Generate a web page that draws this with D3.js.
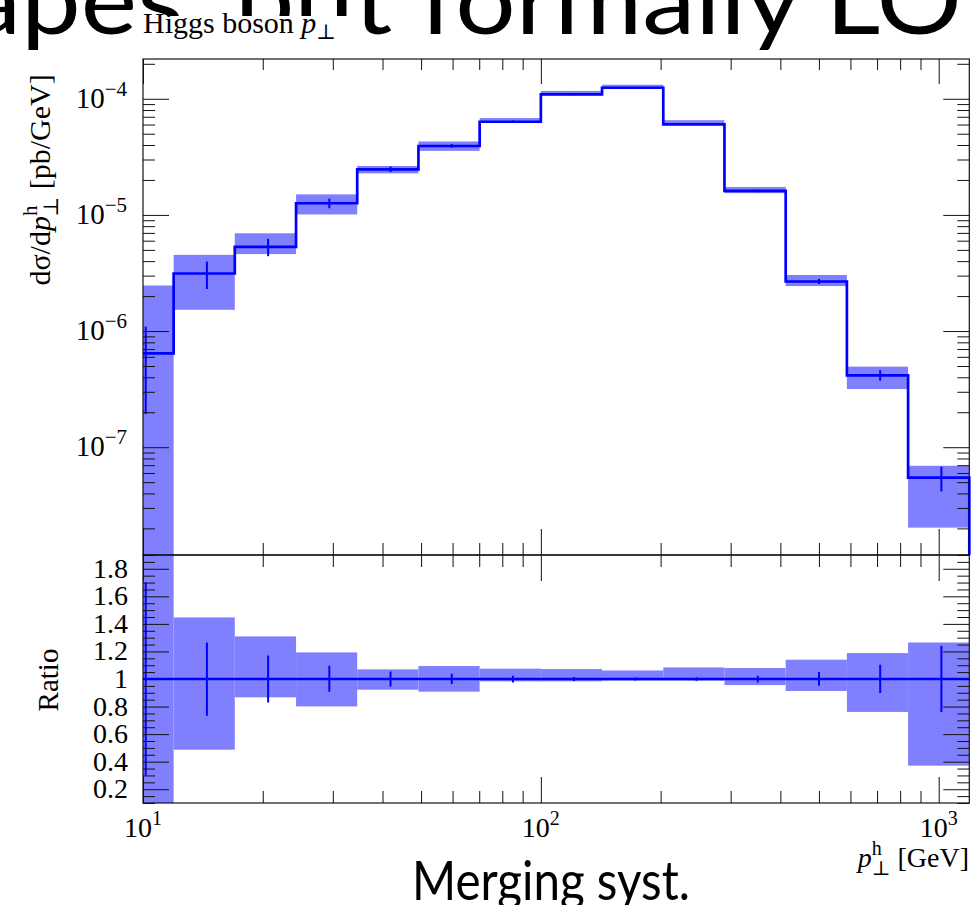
<!DOCTYPE html>
<html>
<head>
<meta charset="utf-8">
<script src="https://cdn.jsdelivr.net/npm/d3@7"></script>
<style>
body{margin:0;background:#fff;}
svg{display:block;}
text{font-family:"Liberation Serif","DejaVu Serif",serif;fill:#000;}
</style>
</head>
<body>
<svg width="971" height="905"></svg>
<script>
// bin edges (GeV), log spaced
var binEdges = [8.377, 11.94, 17.01, 24.25, 34.55, 49.24, 70.17, 100, 142.5, 203.1, 289.4, 412.5, 587.8, 837.7, 1193.8];
// central values dsigma/dpT [pb/GeV]
var central = [6.43e-7, 3.13e-6, 5.31e-6, 1.26e-5, 2.47e-5, 3.92e-5, 6.34e-5, 1.09e-4, 1.244e-4, 6.03e-5, 1.61e-5, 2.67e-6, 4.16e-7, 5.47e-8];
// merging systematics band
var bandHi = [2.47e-6, 4.53e-6, 6.95e-6, 1.503e-5, 2.64e-5, 4.29e-5, 6.82e-5, 1.168e-4, 1.321e-4, 6.54e-5, 1.739e-5, 3.04e-6, 4.94e-7, 6.92e-8];
var bandLo = [0, 1.524e-6, 4.60e-6, 1.009e-5, 2.277e-5, 3.56e-5, 6.23e-5, 1.071e-4, 1.229e-4, 5.96e-5, 1.539e-5, 2.44e-6, 3.17e-7, 2.03e-8];
// stat error bars
var errHi = [1.093e-6, 3.96e-6, 6.22e-6, 1.381e-5, 2.606e-5, 4.07e-5, 6.49e-5, 1.106e-4, 1.256e-4, 6.10e-5, 1.649e-5, 2.81e-6, 4.59e-7, 6.79e-8];
var errLo = [1.93e-7, 2.30e-6, 4.41e-6, 1.144e-5, 2.337e-5, 3.78e-5, 6.18e-5, 1.074e-4, 1.232e-4, 5.96e-5, 1.570e-5, 2.54e-6, 3.74e-7, 4.16e-8];
// ratio panel
var ratioBandHi = [3.84, 1.447, 1.309, 1.193, 1.070, 1.094, 1.075, 1.072, 1.062, 1.084, 1.080, 1.140, 1.188, 1.265];
var ratioBandLo = [0, 0.487, 0.867, 0.801, 0.922, 0.908, 0.983, 0.983, 0.988, 0.988, 0.956, 0.913, 0.761, 0.371];
var ratioErrHi = [1.70, 1.265, 1.171, 1.096, 1.055, 1.038, 1.024, 1.015, 1.010, 1.012, 1.024, 1.051, 1.104, 1.241];
var ratioErrLo = [0.30, 0.734, 0.830, 0.908, 0.946, 0.964, 0.975, 0.985, 0.990, 0.988, 0.975, 0.951, 0.898, 0.761];
var ratioRef = 1;

// ticks
var xMajorTicks = [10, 100, 1000];
var xMajorExp = ["1", "2", "3"];
var xMinorTicks = [20, 30, 40, 50, 60, 70, 80, 90, 200, 300, 400, 500, 600, 700, 800, 900];
var yMajorTicks = [1e-4, 1e-5, 1e-6, 1e-7];
var yMajorExp = ["\u22124", "\u22125", "\u22126", "\u22127"];
var ratioMajorTicks = [0.2, 0.4, 0.6, 0.8, 1, 1.2, 1.4, 1.6, 1.8];
var ratioLabels = ["0.2", "0.4", "0.6", "0.8", "1", "1.2", "1.4", "1.6", "1.8"];

var svg = d3.select("svg");
var plotLeft = 143, plotRight = 969.3;
var mainTop = 59, mainBottom = 555, ratioBottom = 803;
var blue = "#0000ff";
var bandColor = "#8080ff";

var x = d3.scaleLog().domain([10, binEdges[binEdges.length - 1]]).range([plotLeft, plotRight]);
var yMain = d3.scaleLog().domain([1.18e-8, 2.2e-4]).range([mainBottom, mainTop]).clamp(true);
var yRatio = d3.scaleLinear().domain([0.1, 1.9]).range([ratioBottom, mainBottom]).clamp(true);

var bins = central.map(function(c, i){
    return {lo: binEdges[i], hi: binEdges[i + 1], mid: (binEdges[i] + binEdges[i + 1]) / 2,
            c: c, bLo: bandLo[i], bHi: bandHi[i], eLo: errLo[i], eHi: errHi[i],
            rbLo: ratioBandLo[i], rbHi: ratioBandHi[i], reLo: ratioErrLo[i], reHi: ratioErrHi[i]};
});

// slide title behind the plot
svg.append("text")
    .attr("x", -32).attr("y", 34)
    .attr("textLength", 994).attr("lengthAdjust", "spacingAndGlyphs")
    .style("font-family", "Lato, 'Open Sans', sans-serif")
    .style("font-size", "95px")
    .text("apes, but formally LO");
// white box of the plot title covers the slide text
svg.append("rect").attr("x", 141).attr("y", 16).attr("width", 211).attr("height", 35).attr("fill", "#fff");

// clip paths
var defs = svg.append("defs");
defs.append("clipPath").attr("id", "clipMain").append("rect")
    .attr("x", plotLeft).attr("y", mainTop).attr("width", plotRight - plotLeft + 2).attr("height", mainBottom - mainTop);
defs.append("clipPath").attr("id", "clipRatio").append("rect")
    .attr("x", plotLeft).attr("y", mainBottom).attr("width", plotRight - plotLeft + 2).attr("height", ratioBottom - mainBottom);

var mainG = svg.append("g").attr("clip-path", "url(#clipMain)");
var ratioG = svg.append("g").attr("clip-path", "url(#clipRatio)");

//bands
mainG.selectAll("rect.band").data(bins).enter().append("rect")
    .attr("class", "band")
    .attr("x", function(d){return x(d.lo)})
    .attr("width", function(d){return x(d.hi) - x(d.lo)})
    .attr("y", function(d){return yMain(d.bHi)})
    .attr("height", function(d){return yMain(d.bLo) - yMain(d.bHi)})
    .attr("fill", bandColor);
ratioG.selectAll("rect.band").data(bins).enter().append("rect")
    .attr("class", "band")
    .attr("x", function(d){return x(d.lo)})
    .attr("width", function(d){return x(d.hi) - x(d.lo)})
    .attr("y", function(d){return yRatio(d.rbHi)})
    .attr("height", function(d){return yRatio(d.rbLo) - yRatio(d.rbHi)})
    .attr("fill", bandColor);

//histogram outline
var stepPts = [[binEdges[0], 0]];
bins.forEach(function(d){ stepPts.push([d.lo, d.c]); stepPts.push([d.hi, d.c]); });
stepPts.push([binEdges[binEdges.length - 1], 0]);
var mainLine = d3.line()
    .x(function(p){return x(p[0])})
    .y(function(p){return yMain(p[1])});
mainG.append("path").attr("d", mainLine(stepPts))
    .attr("fill", "none").attr("stroke", blue).attr("stroke-width", 2.7);

var ratioPts = [];
bins.forEach(function(d){ ratioPts.push([d.lo, ratioRef]); ratioPts.push([d.hi, ratioRef]); });
var ratioLine = d3.line()
    .x(function(p){return x(p[0])})
    .y(function(p){return yRatio(p[1])});
ratioG.append("path").attr("d", ratioLine(ratioPts))
    .attr("fill", "none").attr("stroke", blue).attr("stroke-width", 2.7);

//error bars
mainG.selectAll("line.err").data(bins).enter().append("line")
    .attr("x1", function(d){return x(d.mid)}).attr("x2", function(d){return x(d.mid)})
    .attr("y1", function(d){return yMain(d.eLo)}).attr("y2", function(d){return yMain(d.eHi)})
    .attr("stroke", blue).attr("stroke-width", 2);
ratioG.selectAll("line.err").data(bins).enter().append("line")
    .attr("x1", function(d){return x(d.mid)}).attr("x2", function(d){return x(d.mid)})
    .attr("y1", function(d){return yRatio(d.reLo)}).attr("y2", function(d){return yRatio(d.reHi)})
    .attr("stroke", blue).attr("stroke-width", 2);

//axes
var drawAxis = function(axis, tx, ty){
    var g = svg.append("g").attr("transform", "translate(" + tx + "," + ty + ")").call(axis);
    g.select(".domain").remove();
    g.selectAll("text").remove();
    g.selectAll("line").attr("stroke", "#111").attr("stroke-width", 1);
};

var yMinorTicks = [];
[1e-8, 1e-7, 1e-6, 1e-5, 1e-4].forEach(function(dec){
    for (var m = 2; m < 10; m++){
        var v = m * dec;
        if (v > 1.18e-8 && v < 2.2e-4) yMinorTicks.push(v);
    }
});
var ratioMinorTicks = d3.range(0.1, 1.9001, 0.05).filter(function(v){
    return Math.abs(v * 5 - Math.round(v * 5)) > 1e-6;
});

// main panel
drawAxis(d3.axisLeft(yMain).tickValues(yMajorTicks).tickSize(-26).tickSizeOuter(0), plotLeft, 0);
drawAxis(d3.axisLeft(yMain).tickValues(yMinorTicks).tickSize(-12).tickSizeOuter(0), plotLeft, 0);
drawAxis(d3.axisRight(yMain).tickValues(yMajorTicks).tickSize(-26).tickSizeOuter(0), plotRight, 0);
drawAxis(d3.axisRight(yMain).tickValues(yMinorTicks).tickSize(-12).tickSizeOuter(0), plotRight, 0);
drawAxis(d3.axisTop(x).tickValues(xMajorTicks).tickSize(-25).tickSizeOuter(0), 0, mainTop);
drawAxis(d3.axisTop(x).tickValues(xMinorTicks).tickSize(-11).tickSizeOuter(0), 0, mainTop);
drawAxis(d3.axisBottom(x).tickValues(xMajorTicks).tickSize(-26).tickSizeOuter(0), 0, mainBottom);
drawAxis(d3.axisBottom(x).tickValues(xMinorTicks).tickSize(-12).tickSizeOuter(0), 0, mainBottom);
// ratio panel
drawAxis(d3.axisLeft(yRatio).tickValues(ratioMajorTicks).tickSize(-26).tickSizeOuter(0), plotLeft, 0);
drawAxis(d3.axisLeft(yRatio).tickValues(ratioMinorTicks).tickSize(-12).tickSizeOuter(0), plotLeft, 0);
drawAxis(d3.axisRight(yRatio).tickValues(ratioMajorTicks).tickSize(-26).tickSizeOuter(0), plotRight, 0);
drawAxis(d3.axisRight(yRatio).tickValues(ratioMinorTicks).tickSize(-12).tickSizeOuter(0), plotRight, 0);
drawAxis(d3.axisTop(x).tickValues(xMajorTicks).tickSize(-26).tickSizeOuter(0), 0, mainBottom);
drawAxis(d3.axisTop(x).tickValues(xMinorTicks).tickSize(-12).tickSizeOuter(0), 0, mainBottom);
drawAxis(d3.axisBottom(x).tickValues(xMajorTicks).tickSize(-26).tickSizeOuter(0), 0, ratioBottom);
drawAxis(d3.axisBottom(x).tickValues(xMinorTicks).tickSize(-12).tickSizeOuter(0), 0, ratioBottom);

//frames
svg.append("rect").attr("x", plotLeft).attr("y", mainTop)
    .attr("width", plotRight - plotLeft).attr("height", mainBottom - mainTop)
    .attr("fill", "none").attr("stroke", "#111").attr("stroke-width", 1.2);
svg.append("rect").attr("x", plotLeft).attr("y", mainBottom)
    .attr("width", plotRight - plotLeft).attr("height", ratioBottom - mainBottom)
    .attr("fill", "none").attr("stroke", "#111").attr("stroke-width", 1.2);

//tick labels
var yLab = svg.selectAll("text.ylab").data(yMajorTicks).enter().append("text")
    .attr("class", "ylab")
    .attr("x", 127).attr("y", function(d){return yMain(d) + 9})
    .attr("text-anchor", "end").style("font-size", "29px")
    .text("10");
yLab.append("tspan").attr("dy", -12).style("font-size", "21px")
    .text(function(d, i){return yMajorExp[i]});

svg.selectAll("text.rlab").data(ratioMajorTicks).enter().append("text")
    .attr("class", "rlab")
    .attr("x", 128).attr("y", function(d){return yRatio(d) + 9})
    .attr("text-anchor", "end").style("font-size", "28px")
    .text(function(d, i){return ratioLabels[i]});

var xLab = svg.selectAll("text.xlab").data(xMajorTicks).enter().append("text")
    .attr("class", "xlab")
    .attr("x", function(d){return x(d)}).attr("y", 837)
    .attr("text-anchor", "middle").style("font-size", "28px")
    .text("10");
xLab.append("tspan").attr("dy", -12).style("font-size", "20px")
    .text(function(d, i){return xMajorExp[i]});

//title
var title = svg.append("text").attr("x", 143).attr("y", 33).style("font-size", "30px").text("Higgs boson ");
title.append("tspan").style("font-style", "italic").text("p");
title.append("tspan").attr("dy", 6).style("font-size", "21px").text("\u22a5");

//axis labels
var yTitle = svg.append("text")
    .attr("transform", "translate(50,180) rotate(-90)")
    .attr("text-anchor", "middle").style("font-size", "30px")
    .text("d\u03c3/d");
yTitle.append("tspan").style("font-style", "italic").text("p");
yTitle.append("tspan").attr("dy", -13).style("font-size", "21px").text("h");
yTitle.append("tspan").attr("dx", -11).attr("dy", 21).style("font-size", "21px").text("\u22a5");
yTitle.append("tspan").attr("dy", -8).text(" [pb/GeV]");

svg.append("text")
    .attr("transform", "translate(58,680) rotate(-90)")
    .attr("text-anchor", "middle").style("font-size", "29px")
    .text("Ratio");

var xTitle = svg.append("text")
    .attr("x", 969).attr("y", 867)
    .attr("text-anchor", "end").style("font-size", "28px");
xTitle.append("tspan").style("font-style", "italic").text("p");
xTitle.append("tspan").attr("dy", -12).style("font-size", "20px").text("h");
xTitle.append("tspan").attr("dx", -10).attr("dy", 20).style("font-size", "20px").text("\u22a5");
xTitle.append("tspan").attr("dy", -8).text(" [GeV]");

//slide caption
svg.append("text")
    .attr("x", 412).attr("y", 900)
    .attr("textLength", 278).attr("lengthAdjust", "spacingAndGlyphs")
    .style("font-family", "Lato, 'Open Sans', sans-serif")
    .style("font-size", "54px")
    .text("Merging syst.");
</script>
</body>
</html>
